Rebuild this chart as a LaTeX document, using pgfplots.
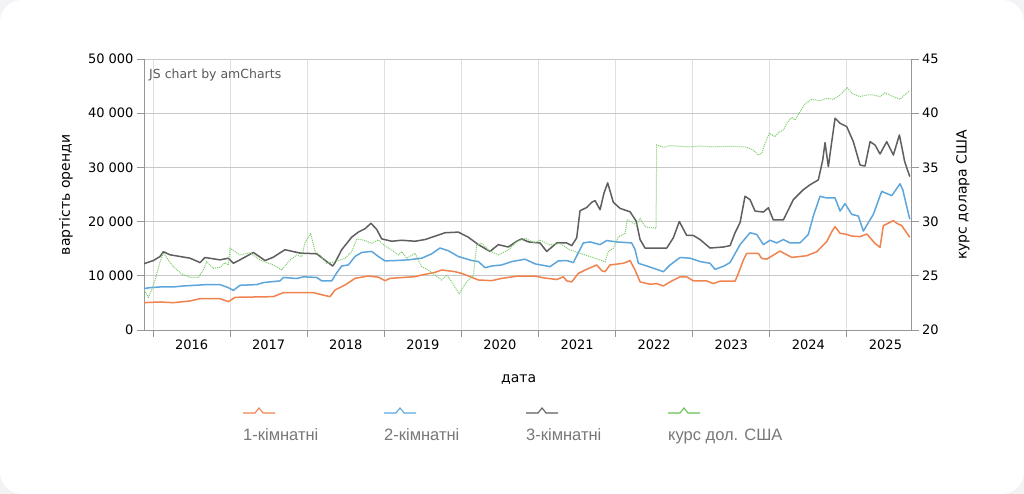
\documentclass[border=0pt]{standalone}
\usepackage{fontspec}
\setmainfont{DejaVu Sans}
\newfontfamily\legfont{Liberation Sans}
\usepackage{pgfplots}
\usepackage{pgfplotstable}
\pgfplotsset{compat=1.18}
\definecolor{cOrange}{RGB}{241,131,79}
\definecolor{cBlue}{RGB}{93,166,220}
\definecolor{cGray}{RGB}{95,95,95}
\definecolor{cGreen}{RGB}{105,192,85}
\definecolor{cGreenL}{RGB}{125,205,105}
\definecolor{bgout}{RGB}{243,243,246}
\definecolor{axgray}{RGB}{150,150,150}
\definecolor{gridh}{RGB}{200,200,200}
\definecolor{gridv}{RGB}{225,225,225}
\definecolor{legtext}{RGB}{120,120,120}
\definecolor{wmtext}{RGB}{90,90,90}

\pgfplotstableread{
t v
2015.874 5040
2016.091 5170
2016.263 5040
2016.480 5350
2016.610 5780
2016.869 5780
2016.977 5230
2017.064 6030
2017.560 6150
2017.690 6890
2018.079 6890
2018.166 6580
2018.296 6150
2018.361 7380
2018.490 8300
2018.620 9530
2018.792 9960
2018.922 9750
2019.009 9100
2019.074 9530
2019.398 9840
2019.485 10150
2019.658 10640
2019.744 11070
2019.917 10760
2020.004 10450
2020.089 9960
2020.219 9230
2020.393 9100
2020.523 9530
2020.738 9960
2020.955 9960
2021.062 9625
2021.236 9310
2021.322 9810
2021.366 9060
2021.431 8875
2021.516 10440
2021.603 11060
2021.755 12000
2021.820 10940
2021.862 10750
2021.927 12000
2022.100 12310
2022.187 12810
2022.252 11060
2022.317 8875
2022.446 8440
2022.533 8560
2022.619 8125
2022.706 8875
2022.835 9810
2022.922 9810
2023.008 9060
2023.181 9060
2023.267 8560
2023.354 9010
2023.549 9010
2023.592 10430
2023.656 12900
2023.700 14130
2023.851 14130
2023.895 13200
2023.960 13080
2024.132 14560
2024.284 13390
2024.478 13700
2024.608 14440
2024.738 16300
2024.803 18140
2024.846 19070
2024.911 17840
2024.975 17710
2025.062 17340
2025.170 17220
2025.258 17710
2025.364 15980
2025.429 15240
2025.472 19250
2025.602 20180
2025.646 19690
2025.711 19250
2025.815 17100
}\orangedata

\pgfplotstableread{
t v
2015.874 7625
2015.961 7810
2016.091 7940
2016.263 7940
2016.393 8125
2016.696 8375
2016.869 8375
2016.977 7810
2017.042 7310
2017.128 8250
2017.345 8375
2017.431 8750
2017.647 9060
2017.690 9690
2017.864 9500
2017.949 9810
2018.123 9690
2018.188 9060
2018.318 9060
2018.383 10560
2018.447 11810
2018.533 12000
2018.620 13560
2018.707 14310
2018.837 14500
2018.922 13560
2019.009 12750
2019.139 12810
2019.311 12940
2019.485 13250
2019.615 14060
2019.722 15125
2019.830 14625
2019.960 13560
2020.134 12810
2020.219 12625
2020.306 11500
2020.393 11810
2020.523 12000
2020.652 12625
2020.825 13060
2020.955 12200
2021.149 11690
2021.257 12750
2021.366 12810
2021.451 12440
2021.581 16060
2021.668 16250
2021.798 15750
2021.884 16500
2022.014 16250
2022.209 16060
2022.252 14810
2022.295 12310
2022.403 11810
2022.533 11190
2022.619 10750
2022.706 12000
2022.835 13375
2022.965 13250
2023.095 12625
2023.224 12310
2023.289 11190
2023.397 11750
2023.484 12440
2023.614 15750
2023.743 17940
2023.830 17625
2023.916 15750
2024.003 16560
2024.089 16060
2024.175 16690
2024.262 16060
2024.391 16060
2024.499 17625
2024.564 21030
2024.651 24670
2024.738 24360
2024.846 24360
2024.911 21940
2024.975 23330
2025.062 21330
2025.148 21030
2025.213 18250
2025.278 19820
2025.342 21330
2025.451 25580
2025.581 24790
2025.689 26970
2025.724 25880
2025.815 20420
}\bluedata

\pgfplotstableread{
t v
2015.874 12190
2016.004 12810
2016.091 13560
2016.134 14440
2016.220 13875
2016.480 13250
2016.610 12440
2016.674 13375
2016.869 12940
2016.977 13250
2017.042 12310
2017.128 12940
2017.301 14310
2017.453 12810
2017.560 13440
2017.712 14810
2017.907 14190
2018.123 14060
2018.253 12625
2018.331 11810
2018.361 12440
2018.447 14810
2018.577 17125
2018.663 18060
2018.750 18690
2018.827 19690
2018.901 18560
2018.966 16810
2019.096 16375
2019.226 16560
2019.398 16375
2019.528 16690
2019.658 17310
2019.787 17940
2019.960 18060
2020.089 17125
2020.219 15750
2020.371 14500
2020.479 15750
2020.608 15310
2020.717 16375
2020.782 16810
2020.868 16250
2021.019 16060
2021.106 14500
2021.236 16060
2021.366 16060
2021.431 15560
2021.495 17000
2021.538 22000
2021.625 22600
2021.690 23560
2021.733 23880
2021.798 22190
2021.850 25300
2021.897 27140
2021.970 23560
2022.057 22440
2022.187 21810
2022.265 20125
2022.317 16690
2022.381 15125
2022.663 15125
2022.748 17000
2022.826 20000
2022.922 17440
2023.008 17440
2023.095 16690
2023.224 15125
2023.397 15310
2023.484 15560
2023.549 17940
2023.614 19810
2023.678 24670
2023.743 24060
2023.808 21940
2023.916 21760
2023.981 22550
2024.045 20300
2024.175 20300
2024.305 24060
2024.434 25880
2024.521 26790
2024.629 27700
2024.686 31360
2024.716 34570
2024.759 30120
2024.794 33830
2024.846 39070
2024.911 38140
2024.997 37530
2025.083 34750
2025.170 30430
2025.235 30250
2025.300 34750
2025.364 34130
2025.429 32470
2025.516 34750
2025.602 32280
2025.680 35980
2025.711 33830
2025.749 31050
2025.815 28300
}\graydata

\pgfplotstableread{
t v
2015.874 23.85
2015.939 23.02
2015.983 23.70
2016.026 24.61
2016.091 26.30
2016.134 27.13
2016.198 26.46
2016.263 25.84
2016.372 25.17
2016.480 24.86
2016.588 24.86
2016.652 25.54
2016.696 26.30
2016.782 25.69
2016.869 25.78
2016.934 26.21
2016.977 26.00
2016.999 27.54
2017.064 27.23
2017.128 26.92
2017.258 27.13
2017.388 26.46
2017.560 26.00
2017.669 25.54
2017.777 26.46
2017.864 26.92
2017.929 26.77
2017.971 28.06
2018.045 28.92
2018.101 27.23
2018.166 26.92
2018.253 26.15
2018.361 26.30
2018.490 26.61
2018.577 27.23
2018.642 28.37
2018.728 28.31
2018.837 28.00
2018.922 28.31
2019.009 27.75
2019.096 27.38
2019.182 26.92
2019.226 27.23
2019.291 26.61
2019.398 27.08
2019.485 25.84
2019.571 25.54
2019.658 25.07
2019.744 24.61
2019.809 25.07
2019.874 24.46
2019.969 23.32
2020.025 24.00
2020.089 24.61
2020.154 24.98
2020.198 27.84
2020.263 28.00
2020.349 27.38
2020.479 26.92
2020.608 27.38
2020.717 28.15
2020.825 28.46
2020.955 28.00
2021.019 28.30
2021.149 27.84
2021.279 28.00
2021.409 27.38
2021.538 27.08
2021.668 26.77
2021.798 26.46
2021.862 26.30
2021.905 27.23
2021.970 27.54
2022.035 28.61
2022.122 28.92
2022.152 30.15
2022.274 29.69
2022.317 30.30
2022.381 29.53
2022.524 29.38
2022.533 37.07
2022.619 36.85
2022.700 37.00
2022.835 36.95
2022.950 36.88
2023.100 36.98
2023.250 36.90
2023.354 36.91
2023.500 36.95
2023.700 36.87
2023.782 36.61
2023.851 36.14
2023.895 36.30
2023.938 37.22
2023.994 38.15
2024.067 37.83
2024.110 38.20
2024.175 38.45
2024.219 39.07
2024.284 39.62
2024.327 39.38
2024.391 40.14
2024.456 40.85
2024.543 41.28
2024.651 41.15
2024.738 41.37
2024.824 41.28
2024.911 41.68
2025.005 42.39
2025.062 41.83
2025.170 41.53
2025.258 41.68
2025.342 41.68
2025.429 41.53
2025.494 41.88
2025.602 41.53
2025.689 41.28
2025.749 41.68
2025.815 42.08
}\usddata

\begin{document}
\begin{tikzpicture}[x=1pt,y=1pt]
\fill[bgout] (0,0) rectangle (1024,494);
\fill[white, rounded corners=22pt] (0,0) rectangle (1024,494);
\useasboundingbox (0,0) rectangle (1024,494);
\pgfplotsset{
  commonaxis/.style={
    at={(144pt,164pt)}, anchor=south west,
    scale only axis, width=767.7pt, height=271pt,
    xmin=2015.883, xmax=2025.840,
    /pgf/number format/assume math mode=true,
    /pgf/number format/1000 sep={\ },
    scaled y ticks=false,
    tick label style={font=\fontsize{13}{15}\selectfont, text=black},
    label style={font=\fontsize{14}{16}\selectfont, text=black},
    axis line style={draw=axgray, line width=0.8pt},
    tick style={draw=axgray, line width=0.8pt},
    tick align=outside, major tick length=7pt,
  },
}
\begin{axis}[commonaxis,
  ymin=0, ymax=50000,
  axis x line*=bottom, axis y line*=left,
  ytick={0,10000,...,50000},
  xtick={2016,2017,...,2025}, xticklabels={},
  extra x ticks={2016.5,2017.5,2018.5,2019.5,2020.5,2021.5,2022.5,2023.5,2024.5,2025.5},
  extra x tick labels={2016,2017,2018,2019,2020,2021,2022,2023,2024,2025},
  extra x tick style={grid=none, major tick length=0pt, tick style={draw=none},
    xticklabel style={yshift=-6pt}},
  xmajorgrids, ymajorgrids,
  x grid style={gridv, line width=0.8pt},
  y grid style={gridh, line width=0.8pt},
  xlabel={дата},
  xlabel style={at={(axis description cs:0.488,-0.181)}, anchor=center},
  ylabel={вартість оренди},
  ylabel style={at={(axis description cs:-0.1016,0.498)}, anchor=center, rotate=0},
]
\addplot[cOrange, line width=1.5pt, line join=round] table[x=t,y=v] {\orangedata};
\addplot[cBlue, line width=1.5pt, line join=round] table[x=t,y=v] {\bluedata};
\addplot[cGray, line width=1.5pt, line join=round] table[x=t,y=v] {\graydata};
\node[anchor=north west, font=\fontsize{12.5}{14}\selectfont, text=wmtext, inner sep=0pt]
  at (axis description cs:0.0065,0.963) {JS chart by amCharts};
\end{axis}
\begin{axis}[commonaxis,
  ymin=20, ymax=45,
  axis x line=none, axis y line*=right,
  ytick={20,25,...,45},
  ylabel={курс долара США},
  ylabel style={at={(axis description cs:1.0668,0.498)}, anchor=center},
]
\addplot[cGreenL, line width=1pt, dash pattern=on 1pt off 1pt] table[x=t,y=v] {\usddata};
\end{axis}
% legend
\foreach \xx/\cc/\tt in {243/cOrange/1-кімнатні, 384/cBlue/2-кімнатні, 526/cGray/3-кімнатні, 668/cGreen/курс дол. США}{
  \draw[\cc, line width=1.1pt] (\xx,81) -- ++(12,0) -- ++(4,5) -- ++(4,-5) -- ++(12,0);
  \node[anchor=base west, inner sep=0pt, font=\legfont\fontsize{16.5}{18}\selectfont, text=legtext] at (\xx,53) {\tt};
}
\end{tikzpicture}
\end{document}
